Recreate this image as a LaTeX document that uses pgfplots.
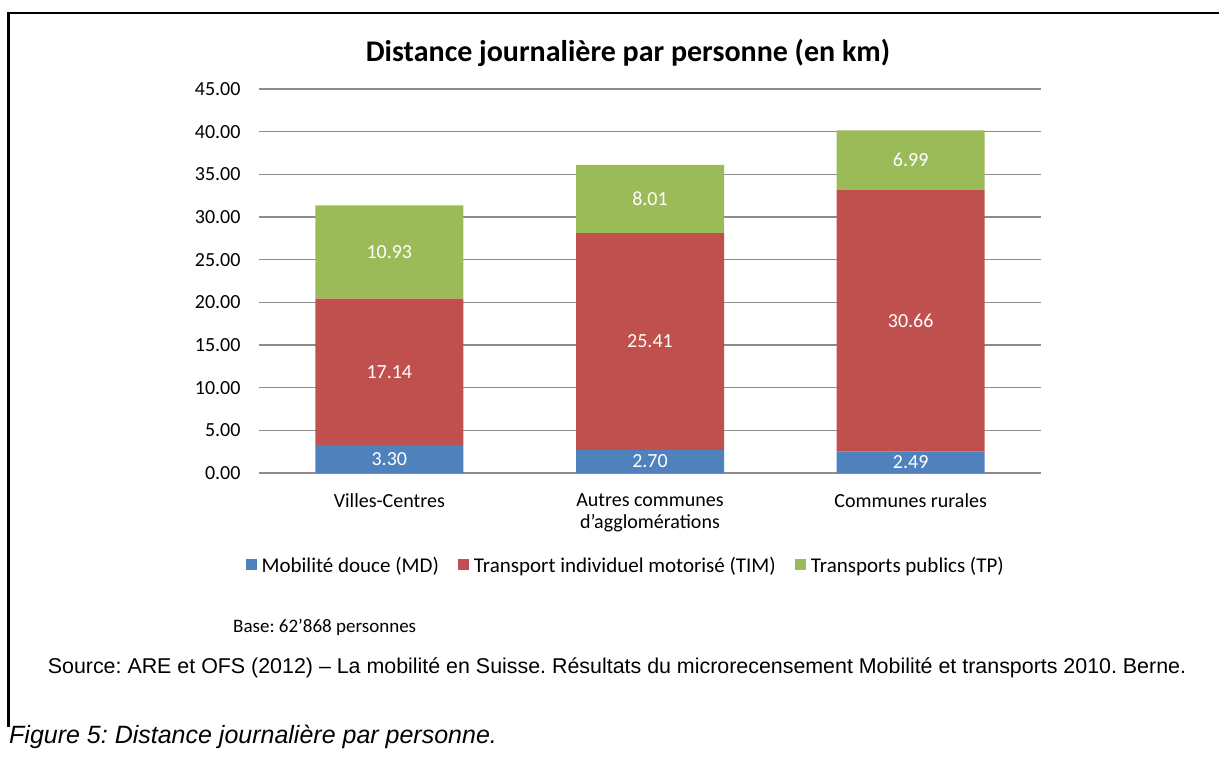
\documentclass[border=0pt]{standalone}
\usepackage{pgfplots}
\usepackage{pgfplotstable}
\pgfplotsset{compat=1.18}
\usepackage{fontspec}
\setmainfont{Carlito}
\newfontfamily\arial{Liberation Sans}
\frenchspacing
\definecolor{mdblue}{HTML}{4F81BD}
\definecolor{timred}{HTML}{C0504D}
\definecolor{tpgreen}{HTML}{9BBB59}
\definecolor{gridgray}{HTML}{8C8C8C}
\pgfplotstableread{
x md tim tp
0 3.30 17.14 10.93
1 2.70 25.41 8.01
2 2.49 30.66 6.99
}\datatable
\begin{document}
\begin{tikzpicture}[x=1pt,y=1pt]
\useasboundingbox (0,0) rectangle (1219,762);
\draw[line width=2.5pt] (8.5,35) -- (8.5,749) -- (1225,749);
\begin{axis}[
  at={(259pt,289pt)}, anchor=south west,
  scale only axis, width=782pt, height=384pt,
  ybar stacked, bar width=148pt,
  xmin=-0.5, xmax=2.5, ymin=0, ymax=45,
  ytick={0,5,...,45},
  xtick={0,1,2},
  xticklabels={Villes-Centres,{Autres communes\\d’agglomérations},Communes rurales},
  xticklabel style={align=center, font=\fontsize{20}{22}\selectfont, yshift=-17pt},
  yticklabel style={font=\fontsize{20}{22}\selectfont, xshift=-15pt, /pgf/number format/fixed, /pgf/number format/fixed zerofill, /pgf/number format/precision=2, /pgf/number format/assume math mode=true},
  major tick length=0pt,
  ymajorgrids, grid style={gridgray, line width=1.5pt},
  separate axis lines,
  axis x line*=bottom, axis y line*=left,
  x axis line style={gridgray, line width=1.5pt, -},
  y axis line style={draw=none},
  nodes near coords,
  point meta=explicit,
  every node near coord/.append style={font=\fontsize{20}{22}\selectfont, text=white, anchor=center, /pgf/number format/fixed, /pgf/number format/fixed zerofill, /pgf/number format/precision=2, /pgf/number format/assume math mode=true},
  legend style={at={(0.469,-0.24)}, anchor=center, draw=none, legend columns=3, font=\fontsize{21}{23}\selectfont,
    /tikz/every even column/.append style={column sep=17pt}},
  legend image code/.code={\fill[#1] (0pt,-5pt) rectangle (11pt,6pt);},
  legend cell align=left,
]
\addplot[fill=mdblue, draw=none] table[x=x, y=md, meta=md] {\datatable};
\addplot[fill=timred, draw=none] table[x=x, y=tim, meta=tim] {\datatable};
\addplot[fill=tpgreen, draw=none] table[x=x, y=tp, meta=tp] {\datatable};
\legend{\hspace{3pt}Mobilité douce (MD), \hspace{3pt}Transport individuel motorisé (TIM), \hspace{3pt}Transports publics (TP)}
\end{axis}
\node[font=\bfseries\fontsize{30}{34}\selectfont] at (628,709) {Distance journalière par personne (en km)};
\node[anchor=west, font=\fontsize{19}{22}\selectfont, inner sep=0pt] at (233,135) {Base: 62’868 personnes};
\node[font=\arial\fontsize{21.4}{24}\selectfont] at (617,94) {Source: ARE et OFS (2012) – La mobilité en Suisse. Résultats du microrecensement Mobilité et transports 2010. Berne.};
\node[anchor=west, inner sep=0pt, font=\arial\itshape\fontsize{25}{28}\selectfont] at (9,25) {Figure 5: Distance journalière par personne.};
\end{tikzpicture}
\end{document}
